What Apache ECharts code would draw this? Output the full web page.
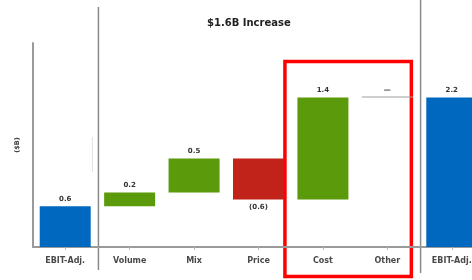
<!DOCTYPE html>
<html>
<head>
<meta charset="utf-8">
<title>EBIT bridge</title>
<script src="https://cdn.jsdelivr.net/npm/echarts@6/dist/echarts.min.js"></script>
<style>
	* { margin: 0; padding: 0; border: 0; }
	html, body { width: 100%; height: 100%; background: #fff; overflow: hidden; }
	/* the last bar runs off the right edge in the original */
	#main { width: 490px; height: 280px; }
</style>
</head>
<body>
	<div id="main"></div>
	<script type="text/javascript">
		// data ($B)
		var categories = ['EBIT-Adj.', 'Volume', 'Mix', 'Price', 'Cost', 'Other', 'EBIT-Adj.'];
		var barLow  = [0,   0.6, 0.8, 0.7, 0.7, 2.2,  0];
		var barHigh = [0.6, 0.8, 1.3, 1.3, 2.2, 2.212, 2.2];
		var valueLabels = ['0.6', '0.2', '0.5', '(0.6)', '1.4', '\u2014', '2.2'];
		var barKind = ['total', 'up', 'up', 'down', 'up', 'flat', 'total'];

		var kindColor = { total: '#0068bf', up: '#5a9a0b', down: '#c1221a', flat: '#a0a0a0' };
		var FONT = 'DejaVu Sans';

		var myChart = echarts.init(document.getElementById('main'));

		var baseData = [];
		var deltaData = [];
		for (var i = 0; i < categories.length; i++)
		{
			baseData.push(barLow[i]);
			deltaData.push({
				value: barHigh[i] - barLow[i],
				itemStyle: { color: kindColor[barKind[i]] },
				label: {
					position: barKind[i] == 'down' ? 'bottom' : 'top',
					distance: barKind[i] == 'flat' ? 3 : 4
				}
			});
		}

		var option = {
			animation: false,
			title: {
				text: '$1.6B Increase',
				left: 202,
				top: 13,
				textStyle: { fontFamily: FONT, fontSize: 10, fontWeight: 'bold', color: '#222' }
			},
			grid: { left: 33, top: 43, width: 451, height: 204 },
			xAxis: {
				type: 'category',
				data: categories,
				axisLine: { lineStyle: { color: '#9a9a9a', width: 2 } },
				axisTick: { show: true, alignWithLabel: true, length: 3, lineStyle: { color: '#bbb' } },
				axisLabel: {
					interval: 0,
					margin: 10,
					fontFamily: FONT,
					fontSize: 8,
					fontWeight: 'bold',
					color: '#4a4a4a'
				}
			},
			yAxis: {
				type: 'value',
				min: 0,
				max: 3,
				name: '($B)',
				nameLocation: 'middle',
				nameGap: 12,
				nameRotate: 90,
				nameTextStyle: { fontFamily: FONT, fontSize: 6.5, fontWeight: 'bold', color: '#444' },
				axisLine: { show: true, lineStyle: { color: '#9a9a9a', width: 2 } },
				axisTick: { show: false },
				axisLabel: { show: false },
				splitLine: { show: false }
			},
			series: [
				{
					name: 'base',
					type: 'bar',
					stack: 'bridge',
					barWidth: 51,
					itemStyle: { color: 'transparent' },
					data: baseData
				},
				{
					name: 'delta',
					type: 'bar',
					stack: 'bridge',
					barWidth: 51,
					label: {
						show: true,
						fontFamily: FONT,
						fontSize: 7,
						fontWeight: 'bold',
						color: '#333',
						formatter: function (p) { return valueLabels[p.dataIndex]; }
					},
					data: deltaData
				}
			]
		};
		myChart.setOption(option);

		// separators between the totals and the bridge, and the highlight box
		var xs = [];
		for (var i = 0; i < categories.length; i++)
		{
			xs.push(myChart.convertToPixel({ xAxisIndex: 0 }, i));
		}
		var sepLeft = (xs[0] + xs[1]) / 2 + 1;
		var sepRight = (xs[5] + xs[6]) / 2 + 1;
		var boxL = xs[4] - 38;
		var boxR = xs[5] + 24;

		myChart.setOption({
			graphic: [
				{ type: 'line', shape: { x1: sepLeft, y1: 7, x2: sepLeft, y2: 270 }, style: { stroke: '#8a8a8a', lineWidth: 1.5 } },
				{ type: 'line', shape: { x1: sepLeft - 6, y1: 137, x2: sepLeft - 6, y2: 172 }, style: { stroke: '#e2e2e2', lineWidth: 1 } },
				{ type: 'line', shape: { x1: sepRight, y1: 0, x2: sepRight, y2: 273 }, style: { stroke: '#8a8a8a', lineWidth: 1.5 } },
				{ type: 'rect', shape: { x: boxL, y: 61.5, width: boxR - boxL, height: 215 }, style: { fill: 'none', stroke: '#ff0000', lineWidth: 3.5 } }
			]
		});
	</script>
</body>
</html>
